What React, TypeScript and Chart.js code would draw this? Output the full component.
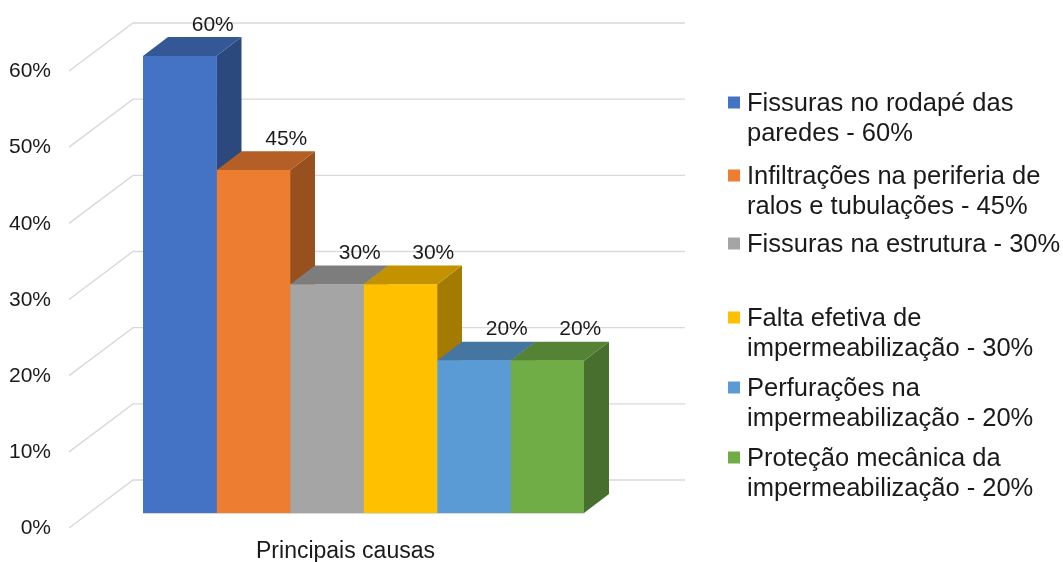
import { useEffect, useRef } from "react";
import { Chart, registerables } from "chart.js";

Chart.register(...registerables);

// ---- data ----
const categories = ["Principais causas"];
const causeLines = [
  ["Fissuras no rodapé das", "paredes - 60%"],
  ["Infiltrações na periferia de", "ralos e tubulações - 45%"],
  ["Fissuras na estrutura - 30%"],
  ["Falta efetiva de", "impermeabilização - 30%"],
  ["Perfurações na", "impermeabilização - 20%"],
  ["Proteção mecânica da", "impermeabilização - 20%"],
];
const percentages = [60, 45, 30, 30, 20, 20];
const yTickValues = [0, 10, 20, 30, 40, 50, 60];

// ---- styling ----
const barColors = ["#4472C4", "#ED7D31", "#A5A5A5", "#FFC000", "#5B9BD5", "#70AD47"];
const FONT = '"Liberation Sans", Arial, Helvetica, sans-serif';
const TEXT_COLOR = "#1a1a1a";
const GRID_COLOR = "#d9d9d9";

// oblique projection of the bar depth
const DEPTH_X = 25;
const DEPTH_Y = 19;
// back wall offset relative to the bar front faces
const WALL_DY = 33;
const WALL_LEFT_DX = -10;
const WALL_RIGHT_DX = 101;
// side wall front edge relative to the back wall corner
const SIDE_DX = -64;
const SIDE_DY = 48;

function shade(hex: string, k: number): string {
  const n = parseInt(hex.slice(1), 16);
  const r = Math.round(((n >> 16) & 255) * k);
  const g = Math.round(((n >> 8) & 255) * k);
  const b = Math.round((n & 255) * k);
  return `rgb(${r},${g},${b})`;
}

const pct = (v: number) => `${v}%`;

const box3d = {
  id: "box3d",
  beforeDatasetsDraw(chart: any) {
    const { ctx, chartArea } = chart;
    const y = chart.scales.y;
    ctx.save();

    // back wall gridlines and side wall diagonals
    ctx.strokeStyle = GRID_COLOR;
    ctx.lineWidth = 1.4;
    for (const v of yTickValues) {
      const wy = y.getPixelForValue(v) - WALL_DY;
      const wl = chartArea.left + WALL_LEFT_DX;
      ctx.beginPath();
      ctx.moveTo(wl + SIDE_DX, wy + SIDE_DY);
      ctx.lineTo(wl, wy);
      ctx.lineTo(chartArea.right + WALL_RIGHT_DX, wy);
      ctx.stroke();
    }

    // side and top faces, left to right so nearer boxes cover farther ones
    chart.data.datasets.forEach((ds: any, i: number) => {
      const bar = chart.getDatasetMeta(i).data[0] as any;
      if (!bar) return;
      const half = bar.width / 2;
      const l = bar.x - half;
      const r = bar.x + half;
      const t = bar.y;
      const b = bar.base;

      // right side
      ctx.fillStyle = shade(barColors[i], 0.64);
      ctx.beginPath();
      ctx.moveTo(r, t);
      ctx.lineTo(r + DEPTH_X, t - DEPTH_Y);
      ctx.lineTo(r + DEPTH_X, b - DEPTH_Y);
      ctx.lineTo(r, b);
      ctx.closePath();
      ctx.fill();

      // top
      ctx.fillStyle = shade(barColors[i], 0.76);
      ctx.beginPath();
      ctx.moveTo(l, t);
      ctx.lineTo(r, t);
      ctx.lineTo(r + DEPTH_X, t - DEPTH_Y);
      ctx.lineTo(l + DEPTH_X, t - DEPTH_Y);
      ctx.closePath();
      ctx.fill();
    });
    ctx.restore();
  },
  afterDatasetsDraw(chart: any) {
    const { ctx } = chart;
    const y = chart.scales.y;
    const x = chart.scales.x;
    ctx.save();

    // thin floor edge under the bars
    const metas = chart.data.datasets.map((_: any, i: number) => chart.getDatasetMeta(i).data[0] as any);
    const first = metas[0];
    const last = metas[metas.length - 1];
    ctx.strokeStyle = GRID_COLOR;
    ctx.lineWidth = 1;
    ctx.beginPath();
    ctx.moveTo(first.x - first.width / 2, first.base + 0.5);
    ctx.lineTo(last.x + last.width / 2, last.base + 0.5);
    ctx.stroke();

    ctx.fillStyle = TEXT_COLOR;

    // value labels above each box
    ctx.font = `21px ${FONT}`;
    ctx.textAlign = "center";
    ctx.textBaseline = "middle";
    chart.data.datasets.forEach((ds: any, i: number) => {
      const bar = metas[i];
      ctx.fillText(pct(ds.data[0]), bar.x + 33, bar.y - 31);
    });

    // y tick labels along the side wall front edge
    ctx.textAlign = "right";
    for (const v of yTickValues) {
      ctx.fillText(pct(v), 51, y.getPixelForValue(v) + 15.5);
    }

    // category label
    ctx.font = `23px ${FONT}`;
    ctx.textAlign = "center";
    ctx.fillText(chart.data.labels[0], x.getPixelForValue(0) - 18, 552);

    // legend
    const itemTops = [102, 175, 243, 317, 387, 457];
    const lineStep = 29.5;
    ctx.font = `25.5px ${FONT}`;
    ctx.textAlign = "left";
    ctx.textBaseline = "alphabetic";
    chart.data.datasets.forEach((ds: any, i: number) => {
      const cy = itemTops[i];
      ctx.fillStyle = barColors[i];
      ctx.fillRect(728, cy - 5.5, 12, 12);
      ctx.fillStyle = TEXT_COLOR;
      (ds.lines as string[]).forEach((line, j) => {
        ctx.fillText(line, 747, cy + 9 + j * lineStep);
      });
    });

    ctx.restore();
  },
};

export default function App() {
  const canvasRef = useRef<HTMLCanvasElement | null>(null);

  useEffect(() => {
    const canvas = canvasRef.current;
    if (!canvas) return;
    const chart = new Chart(canvas, {
      type: "bar",
      data: {
        labels: categories,
        datasets: percentages.map((v, i) => ({
          label: causeLines[i].join(" "),
          lines: causeLines[i],
          data: [v],
          backgroundColor: barColors[i],
          borderWidth: 0,
          categoryPercentage: 1,
          barPercentage: 1,
        })) as any,
      },
      options: {
        responsive: false,
        animation: false,
        devicePixelRatio: 1,
        layout: { padding: { left: 143, right: 479, top: 56, bottom: 49 } },
        scales: {
          x: { display: false },
          y: { display: false, min: 0, max: 60 },
        },
        plugins: {
          legend: { display: false },
          tooltip: { enabled: false },
        },
      },
      plugins: [box3d],
    });
    return () => chart.destroy();
  }, []);

  return (
    <div style={{ position: "absolute", left: 0, top: 0, width: 1063, height: 562, background: "#fff" }}>
      <canvas ref={canvasRef} width={1063} height={562} />
    </div>
  );
}
